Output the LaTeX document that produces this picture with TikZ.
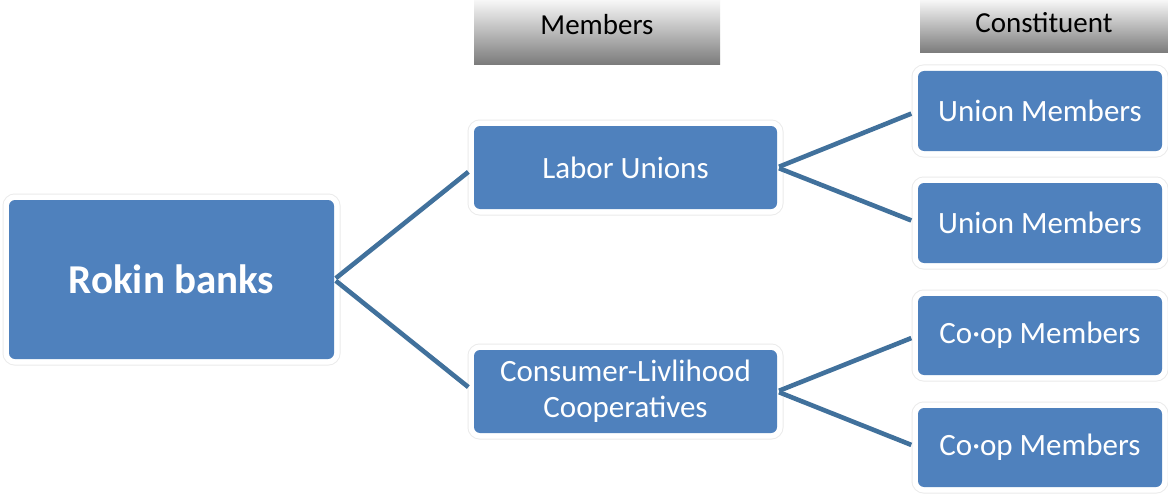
\documentclass[tikz,border=0pt]{standalone}
\usepackage{fontspec}
\setmainfont{Carlito}
\definecolor{boxblue}{HTML}{4F81BD}
\definecolor{lineblue}{HTML}{41719C}
\begin{document}
\begin{tikzpicture}[x=1pt,y=-1pt,
  box/.style={rectangle, rounded corners=6pt, fill=boxblue, text=white, align=center,
    inner sep=0pt, font=\fontsize{31}{36}\selectfont,
    preaction={draw=black!8, line width=13pt},
    preaction={draw=white, line width=11pt}},
  hdr/.style={rectangle, inner sep=0pt, top color=white!97!black, bottom color=black!52},
  hdrtext/.style={anchor=base, inner sep=0pt, text=black, font=\fontsize{29}{34}\selectfont},
  link/.style={draw=lineblue, line width=4.6pt, shorten <=2pt, shorten >=7pt}]
\useasboundingbox (0,0) rectangle (1168,495);
\fill[white] (0,0) rectangle (1168,495);
% headers
\node[hdr, minimum width=246pt, minimum height=65pt] (h1) at (597,32.5) {};
\node[hdr, minimum width=248pt, minimum height=53pt] (h2) at (1044,26.5) {};
\node[hdrtext] (h1t) at (597,35) {Members};
\node[hdrtext] (h2t) at (1044,33) {Constituent};
% boxes
\node[box, minimum width=325pt, minimum height=159pt, font=\fontsize{41}{48}\selectfont\bfseries] (rokin) at (171.5,279.5) {Rokin banks};
\node[box, minimum width=303pt, minimum height=83pt] (labor) at (625.5,167.5) {Labor Unions};
\node[box, minimum width=303pt, minimum height=83pt] (cons) at (625.5,391.5) {Consumer-Livlihood\\Cooperatives};
\node[box, minimum width=244pt, minimum height=80pt] (um1) at (1040,111) {Union Members};
\node[box, minimum width=244pt, minimum height=80pt] (um2) at (1040,223) {Union Members};
\node[box, minimum width=244pt, minimum height=79pt] (cm1) at (1040,335.5) {Co·op Members};
\node[box, minimum width=244pt, minimum height=79pt] (cm2) at (1040,447.5) {Co·op Members};
% connectors
\draw[link] (rokin.east) -- (labor.west);
\draw[link] (rokin.east) -- (cons.west);
\draw[link] (labor.east) -- (um1.west);
\draw[link] (labor.east) -- (um2.west);
\draw[link] (cons.east) -- (cm1.west);
\draw[link] (cons.east) -- (cm2.west);
\end{tikzpicture}
\end{document}
